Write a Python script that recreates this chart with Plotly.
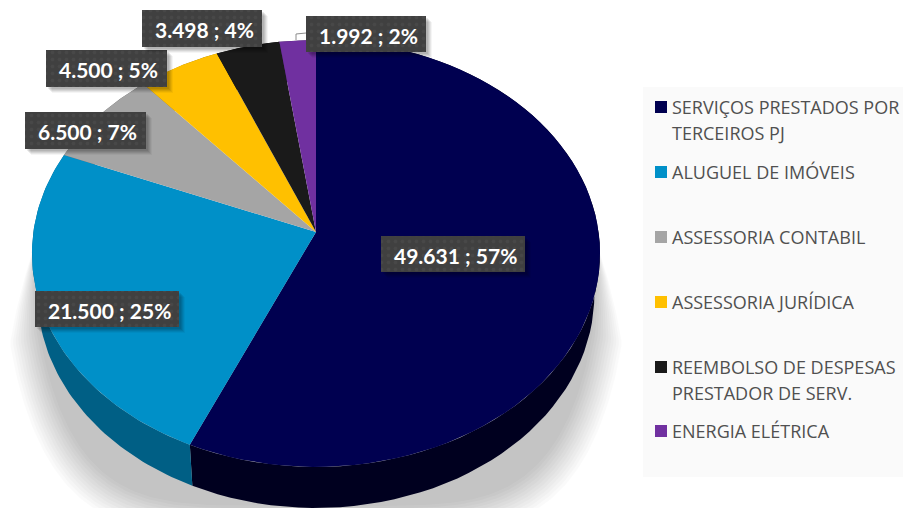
import numpy as np
import plotly.graph_objects as go

# dados
categories = ['SERVIÇOS PRESTADOS POR TERCEIROS PJ', 'ALUGUEL DE IMÓVEIS', 'ASSESSORIA CONTABIL',
              'ASSESSORIA JURÍDICA', 'REEMBOLSO DE DESPESAS PRESTADOR DE SERV.', 'ENERGIA ELÉTRICA']
values = [49631, 21500, 6500, 4500, 3498, 1992]
value_labels = ['49.631', '21.500', '6.500', '4.500', '3.498', '1.992']
percent_labels = ['57%', '25%', '7%', '5%', '4%', '2%']
legend_lines = [['SERVIÇOS PRESTADOS POR', 'TERCEIROS PJ'], ['ALUGUEL DE IMÓVEIS'], ['ASSESSORIA CONTABIL'],
                ['ASSESSORIA JURÍDICA'], ['REEMBOLSO DE DESPESAS', 'PRESTADOR DE SERV.'], ['ENERGIA ELÉTRICA']]

top_colors = ['#000050', '#0090c8', '#a5a5a5', '#ffc000', '#1a1a1a', '#7030a0']
side_colors = ['#00001f', '#005f85', '#6a6a6a', '#a07800', '#0d0d0d', '#451d63']

# layout em pixels
W, H = 903, 508
CX, CY = 316, 232      # vertice da pizza
RX, RY = 282.6, 211.3
TILT = 0.1007          # perspectiva
DEPTH = 41
label_boxes = [(381, 236, 525, 272), (35, 291, 179, 327), (25, 112, 146, 149),
               (46, 50, 167, 87), (142, 10, 262, 47), (306, 16, 426, 52)]
legend_y = [107, 172, 237, 302, 367, 431]
LINE_GAP = 26


def rim(theta, depth=0.0, shrink=1.0):
    den = 1 + TILT * np.cos(theta)
    x = CX + shrink * RX * np.sin(theta) / den
    y = CY - RY * np.cos(theta) / den + depth
    return x, y


def poly_trace(x, y, color, **kw):
    return go.Scatter(x=x, y=y, mode='lines', fill='toself', fillcolor=color,
                      line=dict(width=0, color=color), hoverinfo='skip', showlegend=False, **kw)


fig = go.Figure()

# sombra embaixo da pizza
th = np.linspace(np.pi / 2, 3 * np.pi / 2, 181)
for e in np.linspace(34, 4, 12):
    c = np.abs(np.cos(th))
    s = np.abs(np.sin(th)) ** 0.4 * np.sign(np.sin(th))
    sx = CX + s * (280 + e * np.minimum(1, c / 0.35))
    sy = 240 + (262 + e) * c
    fig.add_trace(poly_trace(sx, sy, 'rgba(0,0,0,0.02)'))

# angulos das fatias a partir dos valores
fractions = np.array(values) / sum(values)
edges = np.concatenate([[0], np.cumsum(fractions)]) * 2 * np.pi

# parede lateral
for i in range(len(values)):
    t = np.linspace(edges[i], edges[i + 1], 80)
    x1, y1 = rim(t)
    x2, y2 = rim(t[::-1], DEPTH, 0.98)
    fig.add_trace(poly_trace(np.concatenate([x1, x2]), np.concatenate([y1, y2]), side_colors[i]))

# face superior
for i in range(len(values)):
    t = np.linspace(edges[i], edges[i + 1], 80)
    x1, y1 = rim(t)
    fig.add_trace(poly_trace(np.concatenate([[CX], x1, [CX]]), np.concatenate([[CY], y1, [CY]]), top_colors[i]))

# linha guia do rotulo pequeno
fig.add_trace(go.Scatter(x=[296, 296, 306], y=[40, 34, 33], mode='lines', line=dict(color='#8c8c8c', width=1),
                         hoverinfo='skip', showlegend=False))

annotations = []

# caixas dos rotulos
for i, (x0, y0, x1, y1) in enumerate(label_boxes):
    for off, alpha in [(6, 0.04), (5, 0.06), (4, 0.07), (3, 0.08), (2, 0.08)]:
        fig.add_trace(poly_trace([x0 + off, x1 + off, x1 + off, x0 + off, x0 + off],
                                 [y0 + off, y0 + off, y1 + off, y1 + off, y0 + off], f'rgba(0,0,0,{alpha})'))
    fig.add_trace(go.Scatter(x=[x0, x1, x1, x0, x0], y=[y0, y0, y1, y1, y0], mode='lines', fill='toself',
                             fillcolor='#404040', line=dict(width=0),
                             fillpattern=dict(shape='.', fgcolor='#505050', bgcolor='#404040', size=7, solidity=0.2),
                             hoverinfo='skip', showlegend=False))
    annotations.append(dict(x=(x0 + x1) / 2 + 2, y=(y0 + y1) / 2 + 1, text=f'<b>{value_labels[i]} ; {percent_labels[i]}</b>',
                            showarrow=False, xanchor='center', yanchor='middle',
                            font=dict(family='Lato', size=21, color='#ffffff')))

# legenda
fig.add_trace(go.Scatter(x=[661] * len(legend_y), y=legend_y, mode='markers', hoverinfo='skip', showlegend=False,
                         marker=dict(symbol='square', size=12, color=top_colors, line=dict(width=0))))
for i, lines in enumerate(legend_lines):
    for j, txt in enumerate(lines):
        annotations.append(dict(x=670, y=legend_y[i] + j * LINE_GAP, text=txt, showarrow=False, xanchor='left',
                                yanchor='middle', font=dict(family='Open Sans', size=18, color='#505050')))

fig.update_layout(
    width=W, height=H,
    margin=dict(l=0, r=0, t=0, b=0),
    paper_bgcolor='#ffffff',
    plot_bgcolor='#ffffff',
    showlegend=False,
    annotations=annotations,
    shapes=[dict(type='rect', x0=643, x1=903, y0=87, y1=477, fillcolor='#fafafa', line=dict(width=0), layer='below')],
    xaxis=dict(range=[0, W], visible=False, fixedrange=True),
    yaxis=dict(range=[H, 0], visible=False, fixedrange=True),
)

fig.write_html("out.html", config=dict(displayModeBar=False), post_script="document.body.style.margin='0';")
